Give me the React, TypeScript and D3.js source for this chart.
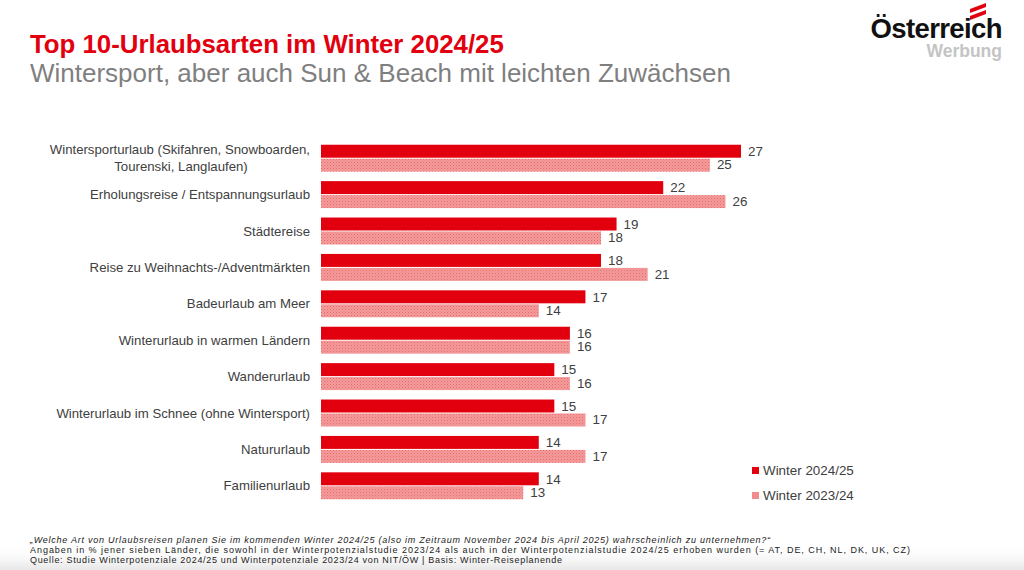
import React from "react";
import * as d3 from "d3";

const categories: string[][] = [
  ["Wintersporturlaub (Skifahren, Snowboarden,", "Tourenski, Langlaufen)"],
  ["Erholungsreise / Entspannungsurlaub"],
  ["Städtereise"],
  ["Reise zu Weihnachts-/Adventmärkten"],
  ["Badeurlaub am Meer"],
  ["Winterurlaub in warmen Ländern"],
  ["Wanderurlaub"],
  ["Winterurlaub im Schnee (ohne Wintersport)"],
  ["Natururlaub"],
  ["Familienurlaub"],
];
const winter2425: number[] = [27, 22, 19, 18, 17, 16, 15, 15, 14, 14];
const winter2324: number[] = [25, 26, 18, 21, 14, 16, 16, 17, 17, 13];
const seriesNames: string[] = ["Winter 2024/25", "Winter 2023/24"];

const DARK = "#e2000f";
const LIGHT = "#f28b8b";
const FONT = "Liberation Sans, Arial, sans-serif";

export default function App() {
  const W = 1024, H = 570;
  const x = d3.scaleLinear().domain([0, 27]).range([321, 741]);
  const y = d3
    .scaleBand<number>()
    .domain(d3.range(categories.length))
    .range([140, 504])
    .paddingInner(0.26)
    .paddingOuter(0.13);
  const bh = y.bandwidth() / 2;

  return (
    <svg
      width={W}
      height={H}
      style={{ position: "absolute", left: 0, top: 0, background: "#fff" }}
      fontFamily={FONT}
    >
      <defs>
        <pattern id="dots" width="3" height="3" patternUnits="userSpaceOnUse">
          <rect width="3" height="3" fill="#f39a9a" />
          <rect width="1" height="1" fill="#e86a6a" />
          <rect x="1.5" y="1.5" width="1" height="1" fill="#ee7f7f" />
        </pattern>
        <linearGradient id="shade" x1="0" y1="0" x2="0" y2="1">
          <stop offset="0" stopColor="#ffffff" stopOpacity="0" />
          <stop offset="1" stopColor="#e6e6e6" stopOpacity="1" />
        </linearGradient>
      </defs>
      <rect width={W} height={H} fill="#fff" />
      <rect x={0} y={545} width={W} height={25} fill="url(#shade)" />

      {/* Titles */}
      <text x={30} y={53} fill={DARK} fontSize={25.8} fontWeight="bold">
        Top 10-Urlaubsarten im Winter 2024/25
      </text>
      <text x={30} y={81.5} fill="#7f7f7f" fontSize={26}>
        Wintersport, aber auch Sun &amp; Beach mit leichten Zuwächsen
      </text>

      {/* Logo */}
      <g>
        <polygon points="970,16 986,10 986,14 970,20" fill={DARK} />
        <polygon points="970,9 986,3 986,7 970,13" fill={DARK} />
        <text x={1002} y={38} textAnchor="end" fontSize={27.5} fontWeight="bold" fill="#111" letterSpacing={-0.6}>
          Österreich
        </text>
        <text x={1002} y={57} textAnchor="end" fontSize={17.5} fontWeight="bold" fill="#c4c4c4">
          Werbung
        </text>
      </g>

      {/* Category labels */}
      {categories.map((lines, i) => {
        const cy = (y(i) as number) + y.bandwidth() / 2;
        const lh = 17;
        const start = cy - ((lines.length - 1) * lh) / 2 + 4.5;
        return (
          <text key={i} fontSize={13.2} fill="#404040">
            {lines.map((l, j) => {
              const centered = lines.length > 1 && j === 1;
              return (
                <tspan key={j} x={centered ? 181 : 310} textAnchor={centered ? "middle" : "end"} y={start + j * lh}>
                  {l}
                </tspan>
              );
            })}
          </text>
        );
      })}

      {/* Bars */}
      {winter2425.map((v, i) => (
        <g key={"a" + i}>
          <rect x={x(0)} y={y(i) as number} width={x(v) - x(0)} height={bh - 0.5} fill={DARK} />
          <text x={x(v) + 7} y={(y(i) as number) + bh / 2 + 4.5} fontSize={13.4} fill="#404040">
            {v}
          </text>
        </g>
      ))}
      {winter2324.map((v, i) => (
        <g key={"b" + i}>
          <rect x={x(0)} y={(y(i) as number) + bh + 0.5} width={x(v) - x(0)} height={bh - 0.5} fill="url(#dots)" />
          <text x={x(v) + 7} y={(y(i) as number) + bh * 1.5 + 4.5} fontSize={13.4} fill="#404040">
            {v}
          </text>
        </g>
      ))}

      {/* Legend */}
      {seriesNames.map((s, i) => (
        <g key={s} transform={`translate(752, ${467 + i * 25})`}>
          <rect x={0} y={0} width={7} height={7} fill={i === 0 ? DARK : LIGHT} />
          <text x={11} y={8} fontSize={13.4} fill="#404040">
            {s}
          </text>
        </g>
      ))}

      {/* Footnotes */}
      <g fontSize={9} fill="#222">
        <text x={30} y={543} fontStyle="italic" textLength={740} lengthAdjust="spacing">
          „Welche Art von Urlaubsreisen planen Sie im kommenden Winter 2024/25 (also im Zeitraum November 2024 bis April 2025) wahrscheinlich zu unternehmen?“
        </text>
        <text x={30} y={553} textLength={880} lengthAdjust="spacing">
          Angaben in % jener sieben Länder, die sowohl in der Winterpotenzialstudie 2023/24 als auch in der Winterpotenzialstudie 2024/25 erhoben wurden (= AT, DE, CH, NL, DK, UK, CZ)
        </text>
        <text x={30} y={563} textLength={532} lengthAdjust="spacing">
          Quelle: Studie Winterpotenziale 2024/25 und Winterpotenziale 2023/24 von NIT/ÖW | Basis: Winter-Reiseplanende
        </text>
      </g>
    </svg>
  );
}
